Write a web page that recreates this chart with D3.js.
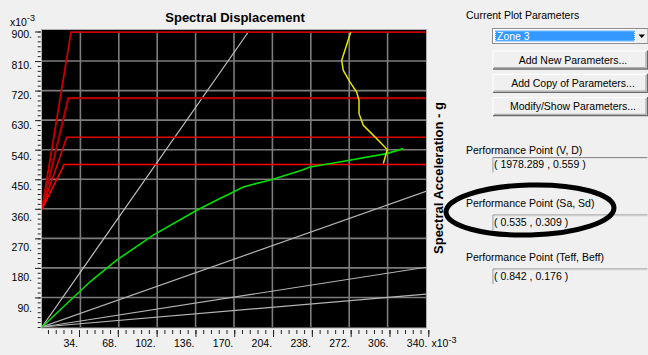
<!DOCTYPE html>
<html>
<head>
<meta charset="utf-8">
<script src="https://cdn.jsdelivr.net/npm/d3@7"></script>
<style>
  html, body { margin: 0; padding: 0; background: #f0f0f0; overflow: hidden; }
  svg { display: block; font-family: "Liberation Sans", Arial, sans-serif; }
</style>
</head>
<body>
<svg id="chart" width="648" height="355"></svg>
<script>
// ---- Data (Sd and Sa in units of 1e-3) ----
const sdTicks = [34, 68, 102, 136, 170, 204, 238, 272, 306, 340];
const saTicks = [90, 180, 270, 360, 450, 540, 630, 720, 810, 900];

// Demand spectra for the different damping levels: [Sd, Sa]
const spectrum1 = [[0, 360], [25.7, 898], [340, 898]];
const spectrum2 = [[0, 360], [23.3, 697], [340, 697]];
const spectrum3 = [[0, 360], [21.9, 578], [340, 578]];
const spectrum4 = [[0, 360], [19.7, 495], [340, 495]];

// Constant-period radial lines, from the origin to these points
const periodLineEnds = [[183, 900], [340, 413], [340, 182], [340, 100]];

// Capacity curve
const capacityCurve = [
  [0, 0], [42.5, 137.7], [66.1, 203.7], [98.5, 279.7], [137.0, 355.7],
  [157.6, 391.3], [169.4, 411.4], [178.2, 426.6], [203.9, 449.1],
  [229.9, 477.4], [237.3, 487.4], [260.9, 500.8], [305.2, 528.1], [319.9, 543.3]
];

// Single demand curve (variable damping)
const demandCurve = [
  [273.3, 897.8], [265.3, 811.8], [266.8, 781.4], [272.7, 745.8],
  [278.6, 715.4], [280.7, 690.2], [280.7, 649.7], [284.5, 614.2],
  [291.9, 589.0], [299.3, 563.4], [305.7, 540.3], [304.3, 523.0], [302.2, 497.7]
];

// Side panel contents
const panelTitle = "Current Plot Parameters";
const selectedZone = "Zone 3";
const buttonLabels = ["Add New Parameters...", "Add Copy of Parameters...", "Modify/Show Parameters..."];
const pointLabels = ["Performance Point (V, D)", "Performance Point (Sa, Sd)", "Performance Point (Teff, Beff)"];
const pointValues = ["( 1978.289 , 0.559 )", "( 0.535 , 0.309 )", "( 0.842 , 0.176 )"];

// ---- Drawing ----
const svg = d3.select("#chart");

const x = d3.scaleLinear().domain([0, 340]).range([42, 426]);
const y = d3.scaleLinear().domain([0, 900]).range([327, 31.5]);
// the axis ruler is drawn on its own slightly wider scale
const xRuler = d3.scaleLinear().domain([0, 340]).range([40.2, 428.3]);
const yLabel = d3.scaleLinear().domain([0, 900]).range([338, 34]);

// plot frame
svg.append("rect")
  .attr("x", 41.5).attr("y", 29.5)
  .attr("width", 385).attr("height", 298.5)
  .attr("fill", "#000").attr("stroke", "#b0b0b0").attr("stroke-width", 1);

svg.append("clipPath").attr("id", "plotClip")
  .append("rect").attr("x", 42).attr("y", 30).attr("width", 384).attr("height", 297.5);

const plot = svg.append("g").attr("clip-path", "url(#plotClip)");

// grid
plot.append("g").selectAll("line").data(sdTicks.slice(0, -1)).join("line")
  .attr("x1", d => x(d)).attr("x2", d => x(d))
  .attr("y1", y(900)).attr("y2", y(0))
  .attr("stroke", "#7c7c7c").attr("stroke-width", 1.6);
plot.append("g").selectAll("line").data(saTicks.slice(0, -1)).join("line")
  .attr("y1", d => y(d)).attr("y2", d => y(d))
  .attr("x1", x(0)).attr("x2", x(340))
  .attr("stroke", "#7c7c7c").attr("stroke-width", 1.6);

const line = d3.line().x(d => x(d[0])).y(d => y(d[1]));

// period lines
plot.append("g").selectAll("line").data(periodLineEnds).join("line")
  .attr("x1", x(0)).attr("y1", y(0))
  .attr("x2", d => x(d[0])).attr("y2", d => y(d[1]))
  .attr("stroke", (d, i) => i === 0 ? "#c4c4c4" : "#b4b4b4")
  .attr("stroke-width", 1.2);

// demand spectra
const spectra = [
  { pts: spectrum1, color: "#c80000", w: 1.8 },
  { pts: spectrum2, color: "#b00000", w: 2.2 },
  { pts: spectrum3, color: "#e00000", w: 1.6 },
  { pts: spectrum4, color: "#ff0000", w: 1.6 }
];
plot.append("g").selectAll("path").data(spectra).join("path")
  .attr("d", d => line(d.pts))
  .attr("fill", "none").attr("stroke", d => d.color).attr("stroke-width", d => d.w);

// capacity curve
plot.append("path").attr("d", line(capacityCurve))
  .attr("fill", "none").attr("stroke", "#00e000").attr("stroke-width", 1.6);

// demand curve
plot.append("path").attr("d", line.curve(d3.curveLinear)(demandCurve))
  .attr("fill", "none").attr("stroke", "#e4e400").attr("stroke-width", 1.5);

// ---- axes ----
const tickColor = "#222";

// x axis: minor ticks
const xMinor = d3.range(1, 51).map(i => i * 6.8);
const xMinorAxis = svg.append("g").attr("transform", "translate(0,330)")
  .call(d3.axisBottom(xRuler).tickValues(xMinor).tickSize(4).tickFormat(""));
// x axis: major ticks and labels
const xAxis = svg.append("g").attr("transform", "translate(0,330)")
  .call(d3.axisBottom(xRuler).tickValues(sdTicks).tickSize(7).tickFormat(d => d + "."));
xAxis.selectAll("text")
  .attr("text-anchor", "end").attr("x", -1.5).attr("y", 13.3).attr("dy", "0.35em");

// y axis: minor ticks
const yMinor = d3.range(0, 61).map(i => i * 15);
svg.append("g").attr("transform", "translate(40.7,0)")
  .call(d3.axisLeft(y).tickValues(yMinor).tickSize(3).tickFormat(""));
// y axis: major ticks and labels
const yAxis = svg.append("g").attr("transform", "translate(40.7,0)")
  .call(d3.axisLeft(y).tickValues(saTicks).tickSize(5.7).tickFormat(d => d + "."));
yAxis.selectAll("text")
  .attr("x", -8.7)
  .attr("y", d => yLabel(d) - y(d))
  .attr("dy", "0.35em");

svg.selectAll(".domain").remove();
svg.selectAll(".tick line").attr("stroke", tickColor);
svg.selectAll(".tick text")
  .attr("fill", "#000").attr("font-size", "10.5px")
  .attr("font-family", "Liberation Sans, Arial, sans-serif");

// exponent markers
function exponentLabel(px, py) {
  const t = svg.append("text").attr("x", px).attr("y", py)
    .attr("font-size", "10.5px").attr("fill", "#000");
  t.append("tspan").text("x10");
  t.append("tspan").attr("dy", -4.5).attr("font-size", "9px").text("-3");
}
exponentLabel(10, 25.5);
exponentLabel(431.5, 347);

// titles
svg.append("text").attr("x", 235).attr("y", 21.5)
  .attr("text-anchor", "middle").attr("font-weight", "bold").attr("font-size", "13px")
  .attr("fill", "#000").text("Spectral Displacement");
svg.append("text")
  .attr("transform", "translate(442.5,178) rotate(-90)")
  .attr("text-anchor", "middle").attr("font-weight", "bold").attr("font-size", "13px")
  .attr("fill", "#000").text("Spectral Acceleration - g");

// ---- side panel ----
const panel = svg.append("g").attr("font-size", "10.5px");
const px0 = 492.5, pRight = 647.5;

panel.append("text").attr("x", 466).attr("y", 18.8).attr("fill", "#000").text(panelTitle);

// combo box
panel.append("rect").attr("x", px0).attr("y", 28.5).attr("width", pRight - px0).attr("height", 15)
  .attr("fill", "#fff").attr("stroke", "#8c8c8c").attr("stroke-width", 1);
panel.append("rect").attr("x", 495).attr("y", 30.5).attr("width", 140).attr("height", 11)
  .attr("fill", "#3399ff");
panel.append("rect").attr("x", 495.5).attr("y", 31).attr("width", 139).attr("height", 10)
  .attr("fill", "none").attr("stroke", "#ffffff").attr("stroke-dasharray", "1,1").attr("stroke-width", 0.8);
panel.append("text").attr("x", 497).attr("y", 39.8).attr("fill", "#fff").text(selectedZone);
panel.append("rect").attr("x", 636).attr("y", 29).attr("width", 11.5).attr("height", 14)
  .attr("fill", "#f0f0f0");
panel.append("path").attr("d", "M638.5,34.5 L645,34.5 L641.75,38 Z").attr("fill", "#000");

// buttons
const btn = panel.selectAll("g.btn").data(buttonLabels).join("g").attr("class", "btn")
  .attr("transform", (d, i) => `translate(${px0},${50.5 + i * 23.3})`);
btn.append("rect").attr("width", pRight - px0).attr("height", 18.5).attr("fill", "#f0f0f0");
btn.append("path").attr("d", `M0.5,18 V0.5 H${pRight - px0 - 0.5}`)
  .attr("fill", "none").attr("stroke", "#ffffff");
btn.append("path").attr("d", `M0.5,18.5 H${pRight - px0} V0`)
  .attr("fill", "none").attr("stroke", "#696969").attr("stroke-width", 1.3);
btn.append("path").attr("d", `M1.5,17.2 H${pRight - px0 - 1.5} V1`)
  .attr("fill", "none").attr("stroke", "#a0a0a0");
btn.append("text").attr("x", (pRight - px0) / 2 + 3).attr("y", 13)
  .attr("text-anchor", "middle").attr("fill", "#000").text(d => d);

// performance point read-outs
const labelY = [150, 203.5, 257.5];
const valueY = [164.5, 222, 276];
const pp = panel.selectAll("g.pp").data(pointLabels).join("g").attr("class", "pp");
pp.append("text").attr("x", 466).attr("y", (d, i) => labelY[i] + 3.8)
  .attr("fill", "#000").text(d => d);
pp.append("rect").attr("x", px0).attr("y", (d, i) => valueY[i] - 7.5)
  .attr("width", pRight - px0).attr("height", 15.5).attr("fill", "#f0f0f0");
pp.append("path")
  .attr("d", (d, i) => `M${px0 + 0.5},${valueY[i] + 8} V${valueY[i] - 7} H${pRight}`)
  .attr("fill", "none").attr("stroke", "#8c8c8c");
pp.append("path")
  .attr("d", (d, i) => `M${px0 + 1.5},${valueY[i] + 7} V${valueY[i] - 6} H${pRight}`)
  .attr("fill", "none").attr("stroke", "#e0e0e0");
pp.append("text").attr("x", px0 + 1.5).attr("y", (d, i) => valueY[i] + 3.8)
  .attr("fill", "#000").text((d, i) => pointValues[i]);

// highlight ring around the (Sa, Sd) read-out
svg.append("ellipse")
  .attr("cx", 530).attr("cy", 210).attr("rx", 84).attr("ry", 25)
  .attr("transform", "rotate(-1.5,530,210)")
  .attr("fill", "none").attr("stroke", "#000").attr("stroke-width", 5);
</script>
</body>
</html>
